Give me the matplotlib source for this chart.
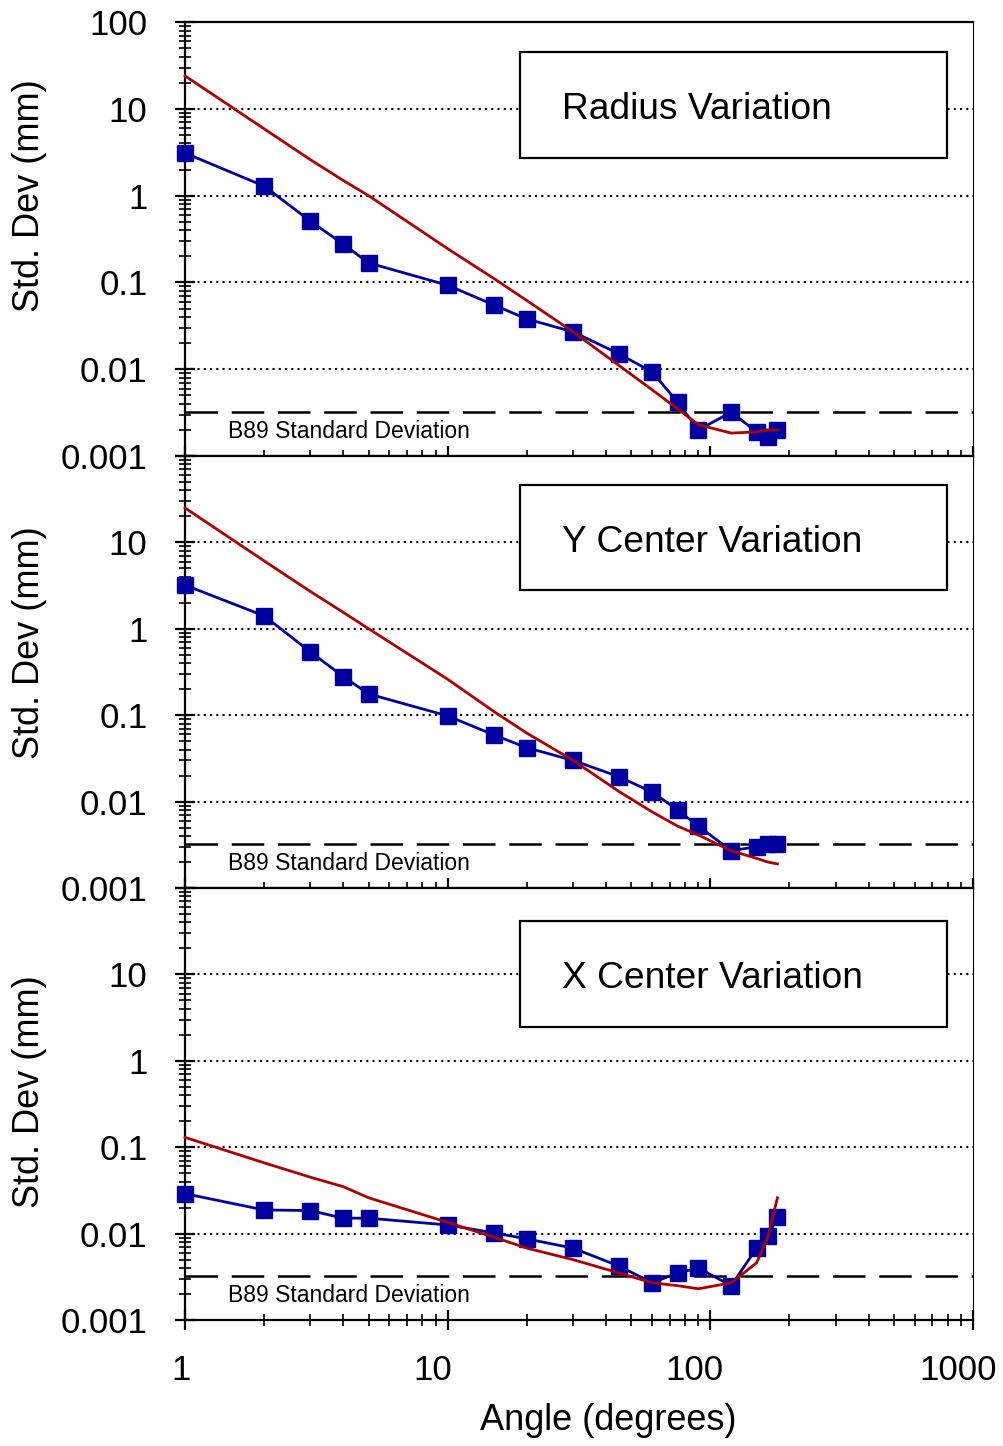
import matplotlib
matplotlib.use('Agg')
import matplotlib.pyplot as plt
import matplotlib.transforms as mtransforms
from matplotlib.ticker import LogLocator, FuncFormatter, NullFormatter
from matplotlib.patches import Rectangle

plt.rcParams['font.family'] = ['Liberation Sans', 'DejaVu Sans']

# rotation angle of the sampled arc (degrees)
angles = [1, 2, 3, 4, 5, 10, 15, 20, 30, 45, 60, 75, 90, 120, 150, 165, 180]

# measured std. deviations (mm)
radius_sd = [3.1, 1.29, 0.51, 0.277, 0.168, 0.093, 0.055, 0.038, 0.027, 0.015,
             0.0093, 0.0042, 0.0020, 0.0032, 0.0019, 0.00166, 0.0020]
ycenter_sd = [3.2, 1.41, 0.54, 0.28, 0.176, 0.098, 0.059, 0.042, 0.030, 0.0193,
              0.0129, 0.0080, 0.0052, 0.0027, 0.0030, 0.0032, 0.0032]
xcenter_sd = [0.029, 0.0188, 0.0185, 0.0151, 0.0151, 0.0126, 0.0102, 0.0087, 0.0068,
              0.0042, 0.0027, 0.0035, 0.0040, 0.0025, 0.0068, 0.0093, 0.0155]

# predicted std. deviations (mm)
radius_model = [24, 5.9, 2.6, 1.5, 1.0, 0.245, 0.111, 0.062, 0.027, 0.011,
                0.0058, 0.0035, 0.0023, 0.00184, 0.0019, 0.0020, 0.0020]
ycenter_model = [25, 6.1, 2.7, 1.55, 1.0, 0.26, 0.11, 0.062, 0.030, 0.013,
                 0.0076, 0.0052, 0.0041, 0.0027, 0.0022, 0.0020, 0.0019]
xcenter_model = [0.13, 0.066, 0.045, 0.035, 0.026, 0.0135, 0.0091, 0.0068, 0.0050,
                 0.0035, 0.0027, 0.0025, 0.0023, 0.0027, 0.0046, 0.0089, 0.026]

b89_sd = 0.0032

titles = ['Radius Variation', 'Y Center Variation', 'X Center Variation']
measured = [radius_sd, ycenter_sd, xcenter_sd]
predicted = [radius_model, ycenter_model, xcenter_model]

xtick_vals = [1, 10, 100, 1000]
xtick_shift = [-4, -15, -16, -15]   # pixels, labels sit a bit left of their ticks

fig = plt.figure(figsize=(10.04, 14.46), dpi=100)

left, width = 0.1843, 0.7849
bottoms = [0.6846, 0.3859, 0.0871]
heights = [0.3001, 0.2988, 0.2988]
box_y = [(0.687, 0.931), (0.690, 0.933), (0.678, 0.924)]
ylabel_y = [0.601, 0.569, 0.528]

axes = []
for i in range(3):
    ax = fig.add_axes([left, bottoms[i], width, heights[i]])
    axes.append(ax)
    ax.set_xscale('log')
    ax.set_yscale('log')
    ax.set_xlim(1, 1000)
    ax.set_ylim(0.001, 100)

    for v in [10, 1, 0.1, 0.01]:
        ax.axhline(v, color='k', ls=(0, (1, 2)), lw=1.5, zorder=1)
    ax.axhline(b89_sd, color='k', ls=(0, (13, 5.5)), lw=1.8, zorder=2)
    ax.text(0.0546, 0.0576, 'B89 Standard Deviation', transform=ax.transAxes,
            fontsize=16.5, va='center', ha='left')

    ax.plot(angles, measured[i], color='#0000a0', lw=2.0, marker='s', ms=11,
            mfc='#0000a0', mec='#0000a0', clip_on=False, zorder=4)
    ax.plot(angles, predicted[i], color='#b00000', lw=2.0, clip_on=False, zorder=5)

    y0, y1 = box_y[i]
    ax.add_patch(Rectangle((0.425, y0), 0.542, y1 - y0, transform=ax.transAxes,
                           fc='white', ec='k', lw=1.6, zorder=6))
    ax.text(0.478, (y0 + y1) / 2 - 0.011, titles[i], transform=ax.transAxes,
            fontsize=26.7, va='center', ha='left', zorder=7)

    ax.xaxis.set_major_locator(LogLocator(base=10))
    ax.xaxis.set_minor_locator(LogLocator(base=10, subs=range(2, 10)))
    ax.yaxis.set_major_locator(LogLocator(base=10))
    ax.yaxis.set_minor_locator(LogLocator(base=10, subs=range(2, 10)))
    ax.xaxis.set_minor_formatter(NullFormatter())
    ax.yaxis.set_minor_formatter(NullFormatter())
    if i == 0:
        ax.yaxis.set_major_formatter(FuncFormatter(lambda v, p: '%g' % v))
    else:
        ax.yaxis.set_major_formatter(FuncFormatter(lambda v, p: '' if v > 50 else '%g' % v))

    ax.tick_params(which='major', direction='inout', length=14, width=1.6,
                   labelsize=25, pad=20, top=False, right=False, labelbottom=False)
    ax.tick_params(which='minor', direction='inout', length=8, width=1.2,
                   top=False, right=False)

    for s in ['left', 'bottom', 'top']:
        ax.spines[s].set_linewidth(1.6)
    ax.spines['right'].set_linewidth(0.8)

    ax.set_ylabel('Std. Dev (mm)', fontsize=26)
    ax.yaxis.set_label_coords(-0.175, ylabel_y[i])

# angle labels under the bottom panel
ax = axes[2]
base = mtransforms.blended_transform_factory(ax.transData, ax.transAxes)
for v, dx in zip(xtick_vals, xtick_shift):
    tr = base + mtransforms.ScaledTranslation(dx / 100, 0, fig.dpi_scale_trans)
    ax.text(v, -0.1157, '%g' % v, transform=tr, fontsize=25,
            ha='center', va='center', clip_on=False)

ax.set_xlabel('Angle (degrees)', fontsize=26)
ax.xaxis.set_label_coords(0.537, -0.193)

fig.savefig('out.png', dpi=100)
